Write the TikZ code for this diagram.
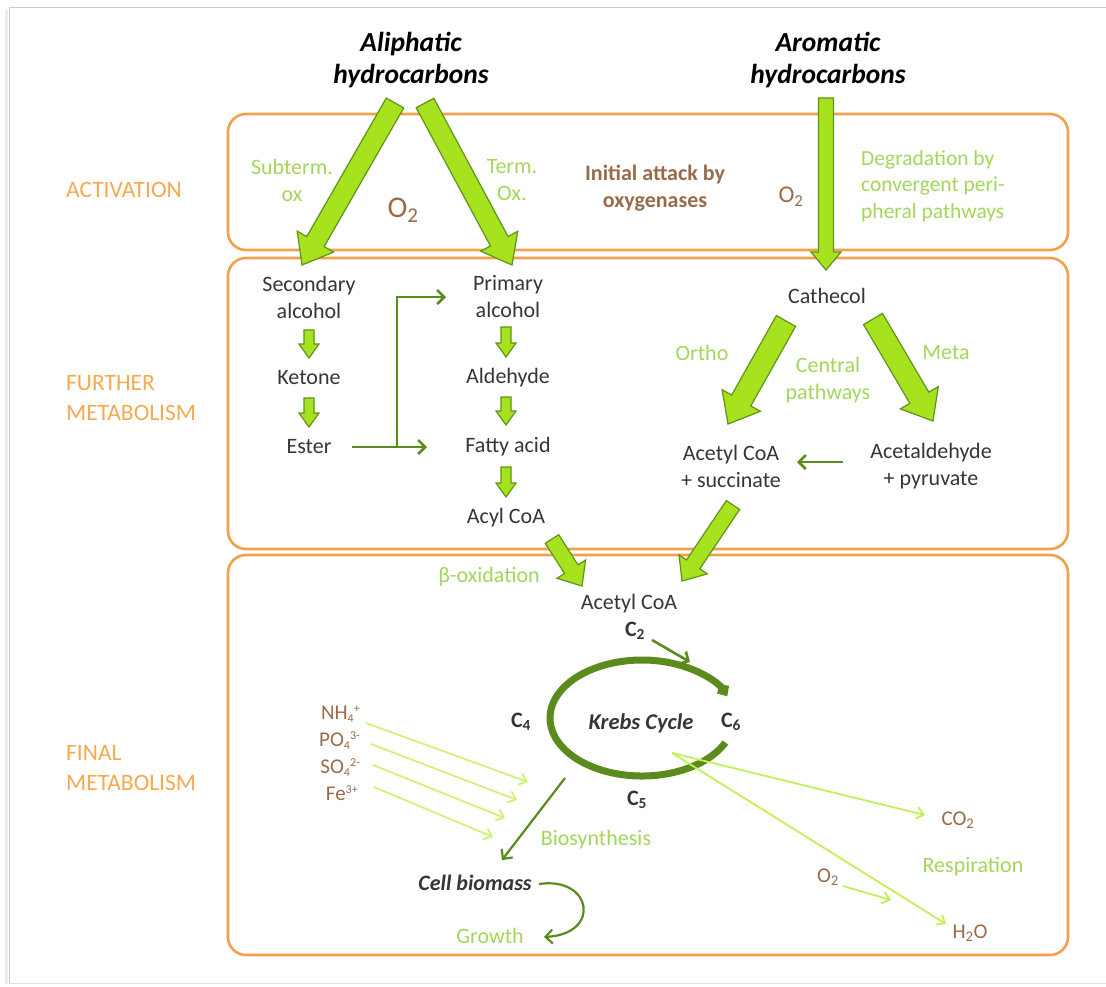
\documentclass[tikz,border=0pt]{standalone}
\usepackage{fontspec}
\setmainfont{Carlito}
\usetikzlibrary{arrows.meta,calc}

\definecolor{boxorange}{HTML}{F4A04A}
\definecolor{labelorange}{HTML}{F6A94E}
\definecolor{limefill}{HTML}{A6E21E}
\definecolor{limeedge}{HTML}{5E9418}
\definecolor{darkgreen}{HTML}{5A8B1C}
\definecolor{softgreen}{HTML}{A5D65C}
\definecolor{paleline}{HTML}{C2F055}
\definecolor{earth}{HTML}{9A6B4A}
\definecolor{ink}{HTML}{363636}

% block arrow: #1 tail, #2 tip, #3 half shaft width, #4 half head width, #5 head length
\newcommand\fatarrow[5]{%
  \coordinate (fa-base) at ($(#2)!#5!(#1)$);
  \draw[fatstyle] ($(#1)!#3!90:(#2)$) -- ($(fa-base)!#3!-90:(#1)$)
    -- ($(fa-base)!#4!-90:(#1)$) -- (#2) -- ($(fa-base)!#4!90:(#1)$)
    -- ($(fa-base)!#3!90:(#1)$) -- ($(#1)!#3!-90:(#2)$) -- cycle;}
% small raised and lowered indices for the ions
\newcommand\ionsub[1]{\raisebox{-3pt}{\fontsize{12}{12}\selectfont #1}}
\newcommand\ionsup[1]{\raisebox{7pt}{\fontsize{12}{12}\selectfont #1}}
\newcommand\subsup[2]{\ionsub{#1}\ionsup{#2}}

\begin{document}
\begin{tikzpicture}[x=1pt,y=-1pt,
  fatstyle/.style={fill=limefill, draw=limeedge, line width=1.2pt, line join=miter},
  darrow/.style={draw=darkgreen, line width=2.6pt, -{Straight Barb[length=7pt,width=14pt]}},
  lightarrow/.style={draw=paleline, line width=1.8pt, -{Straight Barb[length=7pt,width=12pt]}},
  panel/.style={draw=boxorange, line width=2.6pt, rounded corners=18pt},
  body/.style={font=\fontsize{22}{27}\selectfont, text=ink, align=center, inner sep=0pt},
  bodybold/.style={body, font=\fontsize{22}{27}\selectfont\bfseries},
  note/.style={font=\fontsize{22}{27}\selectfont, text=softgreen, align=center, inner sep=0pt},
  chem/.style={font=\fontsize{21}{27}\selectfont, text=earth, inner sep=0pt},
  mineral/.style={chem, anchor=east, text height=13pt, text depth=3pt},
  phase/.style={font=\fontsize{23.5}{30}\selectfont, text=labelorange, align=left, anchor=west, inner sep=0pt},
  title/.style={font=\fontsize{27.5}{32}\selectfont\bfseries\itshape, text=black, align=center, inner sep=0pt}]

\useasboundingbox (0,0) rectangle (1106,986);
\fill[white] (0,0) rectangle (1106,986);

% page frame with a soft shadow on the left
\draw[gray!15, line width=3pt] (6,10) -- (6,984);
\draw[gray!40, line width=1pt] (9,983) -- (9,7) -- (1106,7);
\draw[gray!25, line width=1pt] (9,983) -- (1106,983);

% the three phases
\draw[panel] (228,114) rectangle (1068,250);
\draw[panel] (228,258) rectangle (1068,549);
\draw[panel] (228,555) rectangle (1068,955);

\node[phase] (lact) at (66,190) {ACTIVATION};
\node[phase] (lfur) at (66,398) {FURTHER\\METABOLISM};
\node[phase] (lfin) at (66,768) {FINAL\\METABOLISM};

% substrates
\node[title] (aliph) at (411,60) {Aliphatic\\hydrocarbons};
\node[title] (arom) at (828,60) {Aromatic\\hydrocarbons};

% activation
\node[note] (subterm) at (292,180) {Subterm.\\ox};
\node[note] (term) at (512,180) {Term.\\Ox.};
\node[text=earth, font=\fontsize{30}{30}\selectfont, inner sep=0pt] (oxa) at (403,210) {O\textsubscript{2}};
\node[bodybold, text=earth] (attack) at (655,188) {Initial attack by\\oxygenases};
\node[text=earth, font=\fontsize{24}{24}\selectfont, inner sep=0pt] (oxb) at (791,197) {O\textsubscript{2}};
\node[note, align=left, anchor=west, font=\fontsize{21.5}{26.5}\selectfont] (degr) at (861,186) {Degradation by\\convergent peri-\\pheral pathways};

% further metabolism: aliphatic branch
\node[body] (secalc) at (309,297) {Secondary\\alcohol};
\node[body] (ketone) at (309,378) {Ketone};
\node[body] (ester) at (309,447) {Ester};
\node[body] (primalc) at (508,297) {Primary\\alcohol};
\node[body] (aldeh) at (508,378) {Aldehyde};
\node[body] (fatty) at (508,447) {Fatty acid};
\node[body] (acyl) at (506,518) {Acyl CoA};

% further metabolism: aromatic branch
\node[body] (cath) at (827,296) {Cathecol};
\node[note] (ortho) at (702,353) {Ortho};
\node[note] (meta) at (946,353) {Meta};
\node[note] (central) at (828,380) {Central\\pathways};
\node[body] (acsucc) at (731,466) {Acetyl CoA\\+ succinate};
\node[body] (acpyr) at (931,466) {Acetaldehyde\\+ pyruvate};

% final metabolism
\node[note] (beta) at (489,577) {β-oxidation};
\node[body] (acetyl) at (629,604) {Acetyl CoA};
\node[bodybold] (c2) at (635,631) {C\textsubscript{2}};
\node[bodybold, font=\fontsize{22.5}{27}\selectfont\bfseries\itshape] (krebs) at (641,723) {Krebs Cycle};
\node[bodybold] (c4) at (521,722) {C\textsubscript{4}};
\node[bodybold] (c6) at (731,722) {C\textsubscript{6}};
\node[bodybold] (c5) at (637,800) {C\textsubscript{5}};

\node[mineral] (nh) at (360,714) {NH\subsup{4}{+}};
\node[mineral] (po) at (360,741) {PO\subsup{4}{3-}};
\node[mineral] (so) at (360,768) {SO\subsup{4}{2-}};
\node[mineral] (fe) at (358,795) {Fe\ionsup{3+}};

\node[note] (biosyn) at (596,840) {Biosynthesis};
\node[bodybold, font=\fontsize{22}{27}\selectfont\bfseries\itshape] (biomass) at (475,883) {Cell biomass};
\node[note] (growth) at (490,936) {Growth};

\node[chem] (co2) at (958,820) {CO\textsubscript{2}};
\node[note] (resp) at (973,867) {Respiration};
\node[chem] (o2c) at (828,877) {O\textsubscript{2}};
\node[chem] (h2o) at (970,933) {H\textsubscript{2}O};

% end points of the block arrows
\coordinate (subTail) at (395,103);  \coordinate (subTip) at (302,265);
\coordinate (termTail) at (425,103); \coordinate (termTip) at (512,265);
\coordinate (aroTail) at (826,98);   \coordinate (aroTip) at (826,270);
\coordinate (orTail) at (786,321);   \coordinate (orTip) at (728,424);
\coordinate (meTail) at (873,319);   \coordinate (meTip) at (933,421);
\coordinate (acyTail) at (552,539);  \coordinate (acyTip) at (582,586);
\coordinate (sucTail) at (733,505);  \coordinate (sucTip) at (682,581);

\fatarrow{subTail}{subTip}{10pt}{21pt}{27pt}
\fatarrow{termTail}{termTip}{10pt}{21pt}{27pt}
\fatarrow{aroTail}{aroTip}{7.5pt}{15pt}{18pt}
\fatarrow{orTail}{orTip}{11pt}{22pt}{27pt}
\fatarrow{meTail}{meTip}{11pt}{22pt}{27pt}
\fatarrow{acyTail}{acyTip}{8pt}{17pt}{20pt}
\fatarrow{sucTail}{sucTip}{8pt}{17pt}{20pt}

% small block arrows down each column
\coordinate (s1a) at (309,330); \coordinate (s1b) at (309,358);
\coordinate (s2a) at (309,398); \coordinate (s2b) at (309,427);
\coordinate (p1a) at (506,327); \coordinate (p1b) at (506,357);
\coordinate (p2a) at (506,397); \coordinate (p2b) at (506,425);
\coordinate (p3a) at (506,467); \coordinate (p3b) at (506,497);
\fatarrow{s1a}{s1b}{5pt}{10pt}{14pt}
\fatarrow{s2a}{s2b}{5pt}{10pt}{14pt}
\fatarrow{p1a}{p1b}{5pt}{10pt}{14pt}
\fatarrow{p2a}{p2b}{5pt}{10pt}{14pt}
\fatarrow{p3a}{p3b}{5pt}{10pt}{14pt}

% ester to fatty acid and primary alcohol
\coordinate (estOut) at (352,447);
\coordinate (fork) at (397,447);
\coordinate (fattyIn) at (427,447);
\coordinate (primIn) at (446,297);
\draw[darrow] (estOut) -- (fattyIn);
\draw[darrow] (fork) |- (primIn);

% acetaldehyde back to acetyl CoA
\coordinate (pyrOut) at (843,462);
\coordinate (succIn) at (797,462);
\draw[darrow] (pyrOut) -- (succIn);

% C2 entering the cycle
\coordinate (c2out) at (652,640);
\coordinate (c2in) at (690,662);
\draw[darrow] (c2out) -- (c2in);

% Krebs cycle
\coordinate (kc) at (642,718);
\draw[draw=darkgreen, line width=7pt, -{Straight Barb[length=5pt,width=9pt]}]
  (kc) ++(25:92 and 58) arc[start angle=25, end angle=338, x radius=92, y radius=58];

% mineral uptake
\coordinate (nhOut) at (366,723); \coordinate (nhIn) at (528,782);
\coordinate (poOut) at (371,744); \coordinate (poIn) at (517,800);
\coordinate (soOut) at (373,765); \coordinate (soIn) at (505,818);
\coordinate (feOut) at (374,787); \coordinate (feIn) at (493,837);
\draw[lightarrow, paleline!80] (nhOut) -- (nhIn);
\draw[lightarrow, paleline!80] (poOut) -- (poIn);
\draw[lightarrow, paleline!80] (soOut) -- (soIn);
\draw[lightarrow, paleline!80] (feOut) -- (feIn);

% biosynthesis and growth
\coordinate (bioOut) at (565,778);
\coordinate (bioIn) at (502,860);
\coordinate (growOut) at (539,884);
\coordinate (growIn) at (544,937);
\draw[darrow, line width=2.2pt] (bioOut) -- (bioIn);
\draw[darrow, line width=2.2pt] (growOut) .. controls (592,876) and (602,934) .. (growIn);

% respiration
\coordinate (respOut) at (672,753);
\coordinate (co2In) at (925,815);
\coordinate (h2oIn) at (946,924);
\coordinate (o2Out) at (843,886);
\coordinate (o2In) at (891,900);
\draw[lightarrow] (respOut) -- (co2In);
\draw[lightarrow] (respOut) -- (h2oIn);
\draw[lightarrow] (o2Out) -- (o2In);

\end{tikzpicture}
\end{document}
